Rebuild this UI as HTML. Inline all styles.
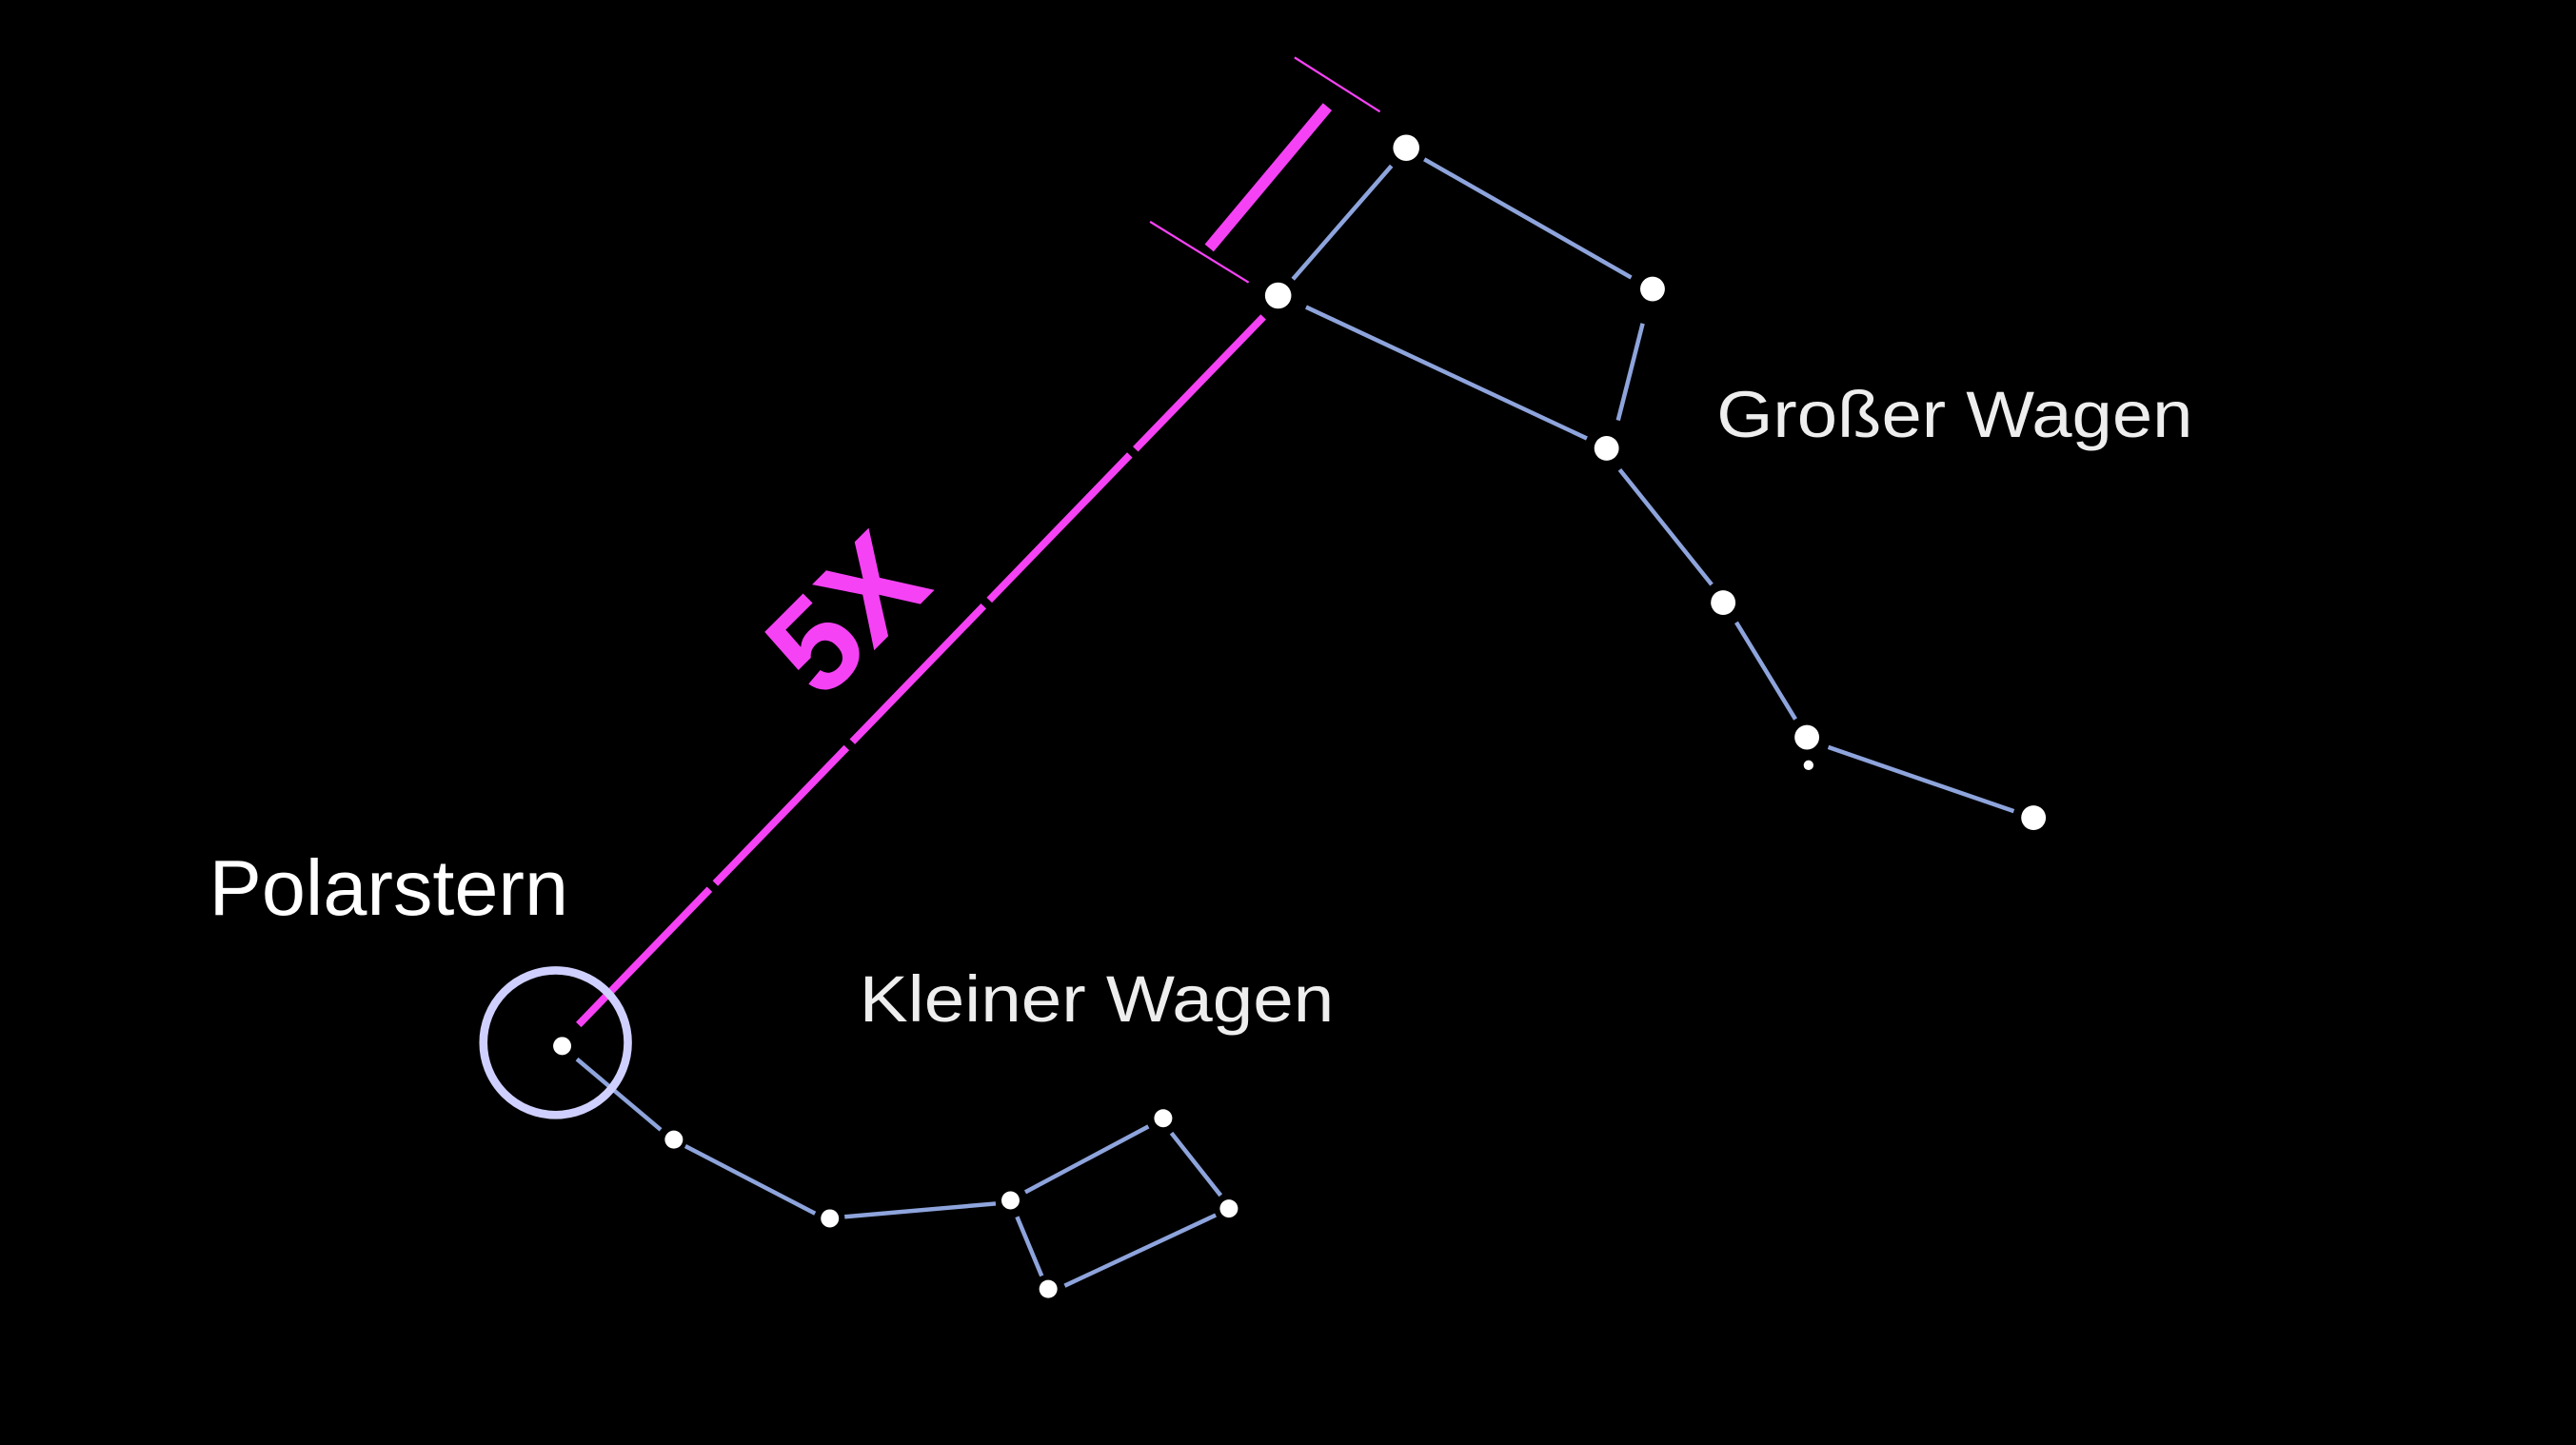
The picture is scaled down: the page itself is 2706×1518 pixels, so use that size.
<!DOCTYPE html>
<html><head><meta charset="utf-8"><style>
html,body{margin:0;padding:0;background:#000;width:2706px;height:1518px;overflow:hidden}
svg{display:block}
</style></head><body>
<svg width="2706" height="1518" viewBox="0 0 1568 880" xmlns="http://www.w3.org/2000/svg">
<rect width="1568" height="880" fill="#000"/>
<g stroke="#8ea4dc" stroke-width="2.6" fill="none">
<line x1="847" y1="101" x2="787" y2="170"/>
<line x1="867" y1="97" x2="993" y2="169"/>
<line x1="1000" y1="197" x2="985" y2="256"/>
<line x1="795" y1="187" x2="966" y2="267"/>
<line x1="986" y1="286" x2="1042" y2="356"/>
<line x1="1057" y1="379" x2="1093" y2="438"/>
<line x1="1113" y1="455" x2="1226" y2="494"/>
<line x1="351" y1="645" x2="402" y2="688"/>
<line x1="417" y1="698" x2="496" y2="739"/>
<line x1="514" y1="741" x2="606" y2="733"/>
<line x1="624" y1="726" x2="699" y2="686"/>
<line x1="713" y1="690" x2="743" y2="728"/>
<line x1="740" y1="740" x2="648" y2="783"/>
<line x1="634" y1="777" x2="619" y2="741"/>
</g>
<g fill="#fff">
<circle cx="856" cy="90" r="8"/>
<circle cx="778" cy="180" r="8"/>
<circle cx="1006" cy="176" r="7.5"/>
<circle cx="978" cy="273" r="7.5"/>
<circle cx="1049" cy="367" r="7.5"/>
<circle cx="1100" cy="449" r="7.5"/>
<circle cx="1101" cy="466" r="3"/>
<circle cx="1238" cy="498" r="7.5"/>
<circle cx="342" cy="637" r="5.5"/>
<circle cx="410" cy="694" r="5.5"/>
<circle cx="505" cy="742" r="5.5"/>
<circle cx="615" cy="731" r="5.5"/>
<circle cx="708" cy="681" r="5.5"/>
<circle cx="748" cy="736" r="5.5"/>
<circle cx="638" cy="785" r="5.5"/>
</g>
<g stroke="#f542f5" fill="none">
<line x1="769" y1="193" x2="352" y2="624" stroke-width="4.5" stroke-dasharray="112 5 123 5 115 5 115 5 300"/>
<line x1="808" y1="65" x2="736" y2="151" stroke-width="7"/>
<line x1="788" y1="35" x2="840" y2="68" stroke-width="1.3"/>
<line x1="700" y1="135" x2="760" y2="172" stroke-width="1.3"/>
</g>
<circle cx="338" cy="635" r="44" fill="none" stroke="#cfd0ff" stroke-width="5"/>
<text x="0" y="0" transform="translate(500,428) rotate(-45)" fill="#f542f5" font-family="Liberation Sans, sans-serif" font-size="80" font-weight="bold">5X</text>
<g fill="#fff" font-family="Liberation Sans, sans-serif">
<text x="127" y="557" font-size="48">Polarstern</text>
<text x="523" y="622" font-size="40" fill="#eee" textLength="289" lengthAdjust="spacingAndGlyphs">Kleiner Wagen</text>
<text x="1045" y="266" font-size="40" fill="#eee" textLength="290" lengthAdjust="spacingAndGlyphs">Großer Wagen</text>
</g>
</svg>
</body></html>
